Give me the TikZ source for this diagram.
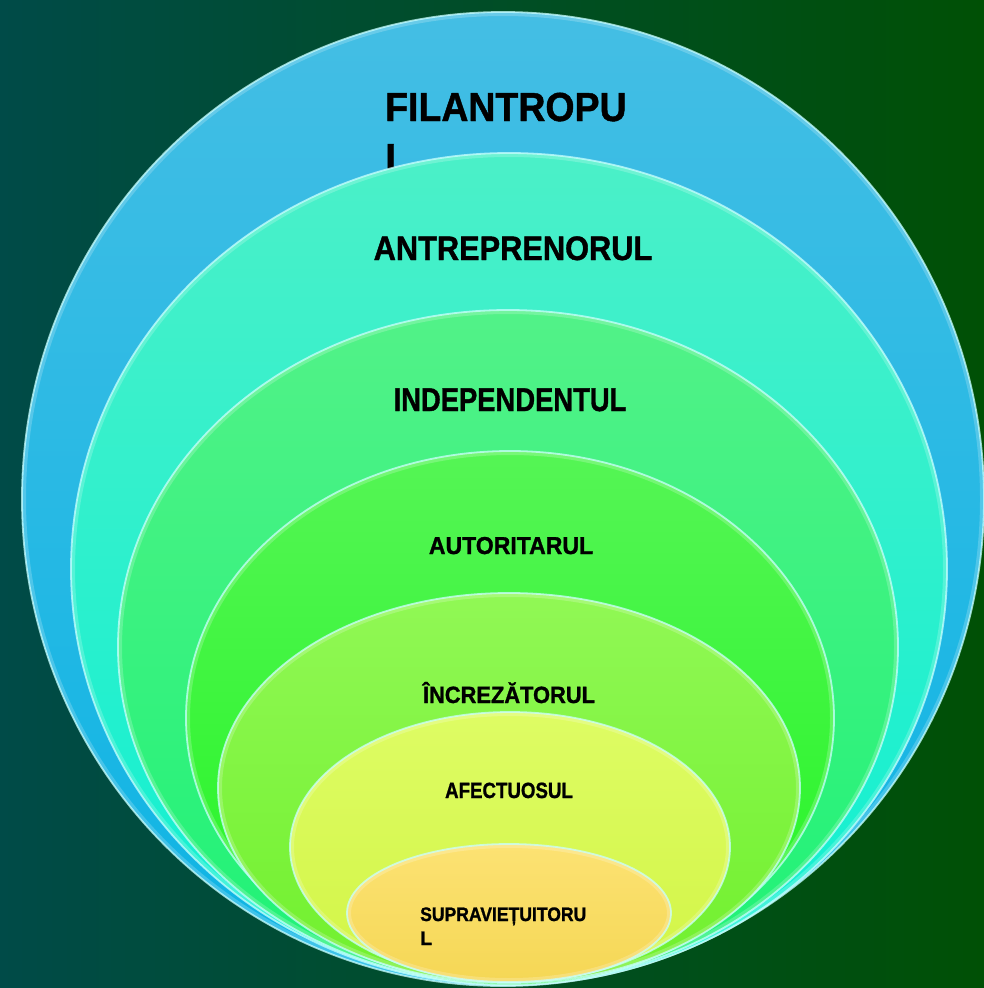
\documentclass[tikz,border=0pt]{standalone}
\usepackage{fontspec}
\setmainfont{Liberation Sans}
\newfontfamily\heavyfont[FakeBold=1.2]{Liberation Sans Bold}
\definecolor{bgl}{RGB}{0,75,72}
\definecolor{bgr}{RGB}{0,80,5}
\definecolor{c1t}{RGB}{68,190,228}
\definecolor{c1b}{RGB}{12,180,228}
\definecolor{c2t}{RGB}{75,240,200}
\definecolor{c2b}{RGB}{14,240,210}
\definecolor{c3t}{RGB}{82,242,136}
\definecolor{c3b}{RGB}{30,242,118}
\definecolor{c4t}{RGB}{85,245,85}
\definecolor{c4b}{RGB}{35,245,35}
\definecolor{c5t}{RGB}{145,248,85}
\definecolor{c5b}{RGB}{112,240,45}
\definecolor{c6t}{RGB}{222,252,100}
\definecolor{c6b}{RGB}{210,245,70}
\definecolor{c7t}{RGB}{252,226,115}
\definecolor{c7b}{RGB}{245,215,85}
\definecolor{rimc}{RGB}{200,255,255}
\begin{document}
\begin{tikzpicture}[x=1pt,y=-1pt,
  lbl/.style={inner sep=0pt, text=black},
  rim/.style={draw=rimc, draw opacity=0.75, line width=1.8pt},
  glow/.style={draw=white, draw opacity=0.2, line width=8pt}]
\useasboundingbox (0,0) rectangle (984,988);
\shade[left color=bgl, right color=bgr] (0,0) rectangle (984,988);
% 1 outer
\shade[top color=c1t, bottom color=c1b] (503,499) ellipse [x radius=481pt, y radius=487pt];
\begin{scope}
\clip (503,499) ellipse [x radius=481pt, y radius=487pt];
\draw[glow] (503,499) ellipse [x radius=481pt, y radius=487pt];
\end{scope}
\draw[rim] (503,499) ellipse [x radius=481pt, y radius=487pt];
\node[lbl, anchor=base west, font=\heavyfont\fontsize{40.5}{51}\selectfont] (filantropul) at (385,121)
  {\vtop{\hbox{\scalebox{0.925}[1]{FILANTROPU}}\hbox{L}}};
% 2
\shade[top color=c2t, bottom color=c2b] (509,569) ellipse [x radius=438pt, y radius=416pt];
\begin{scope}
\clip (509,569) ellipse [x radius=438pt, y radius=416pt];
\draw[glow] (509,569) ellipse [x radius=438pt, y radius=416pt];
\end{scope}
\draw[rim] (509,569) ellipse [x radius=438pt, y radius=416pt];
\node[lbl, anchor=base, font=\heavyfont\fontsize{34}{40}\selectfont] (antreprenorul) at (513,260)
  {\scalebox{0.905}[1]{ANTREPRENORUL}};
% 3
\shade[top color=c3t, bottom color=c3b] (508,647) ellipse [x radius=390pt, y radius=337pt];
\begin{scope}
\clip (508,647) ellipse [x radius=390pt, y radius=337pt];
\draw[glow] (508,647) ellipse [x radius=390pt, y radius=337pt];
\end{scope}
\draw[rim] (508,647) ellipse [x radius=390pt, y radius=337pt];
\node[lbl, anchor=base, font=\heavyfont\fontsize{33}{40}\selectfont] (independentul) at (510,411)
  {\scalebox{0.83}[1]{INDEPENDENTUL}};
% 4
\shade[top color=c4t, bottom color=c4b] (510,718) ellipse [x radius=324pt, y radius=267pt];
\begin{scope}
\clip (510,718) ellipse [x radius=324pt, y radius=267pt];
\draw[glow] (510,718) ellipse [x radius=324pt, y radius=267pt];
\end{scope}
\draw[rim] (510,718) ellipse [x radius=324pt, y radius=267pt];
\node[lbl, anchor=base, font=\heavyfont\fontsize{24.5}{29}\selectfont] (autoritarul) at (511,554)
  {\scalebox{0.94}[1]{AUTORITARUL}};
% 5
\shade[top color=c5t, bottom color=c5b] (509,788) ellipse [x radius=291pt, y radius=195pt];
\begin{scope}
\clip (509,788) ellipse [x radius=291pt, y radius=195pt];
\draw[glow] (509,788) ellipse [x radius=291pt, y radius=195pt];
\end{scope}
\draw[rim] (509,788) ellipse [x radius=291pt, y radius=195pt];
\node[lbl, anchor=base, font=\heavyfont\fontsize{23.5}{28}\selectfont] (increzatorul) at (509,703)
  {\scalebox{0.93}[1]{ÎNCREZĂTORUL}};
% 6
\shade[top color=c6t, bottom color=c6b] (510,847) ellipse [x radius=220pt, y radius=135pt];
\begin{scope}
\clip (510,847) ellipse [x radius=220pt, y radius=135pt];
\draw[glow] (510,847) ellipse [x radius=220pt, y radius=135pt];
\end{scope}
\draw[rim] (510,847) ellipse [x radius=220pt, y radius=135pt];
\node[lbl, anchor=base, font=\heavyfont\fontsize{22}{26}\selectfont] (afectuosul) at (509,798)
  {\scalebox{0.85}[1]{AFECTUOSUL}};
% 7
\shade[top color=c7t, bottom color=c7b] (509,913) ellipse [x radius=162pt, y radius=69pt];
\begin{scope}
\clip (509,913) ellipse [x radius=162pt, y radius=69pt];
\draw[glow] (509,913) ellipse [x radius=162pt, y radius=69pt];
\end{scope}
\draw[rim] (509,913) ellipse [x radius=162pt, y radius=69pt];
\node[lbl, anchor=base west, font=\heavyfont\fontsize{19.5}{24}\selectfont] (supravietuitorul) at (420,921)
  {\vtop{\hbox{\scalebox{0.9}[1]{SUPRAVIEȚUITORU}}\hbox{L}}};
\end{tikzpicture}
\end{document}
